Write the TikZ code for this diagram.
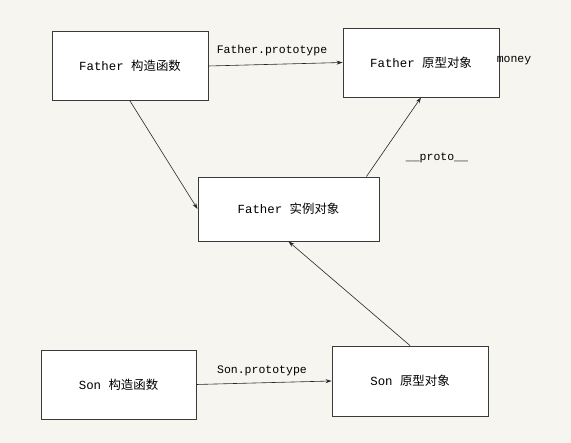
\documentclass[tikz,border=0pt]{standalone}
\usepackage{fontspec}
\setmainfont{Liberation Mono}
\newfontfamily\cjk{Noto Sans CJK SC}
\usetikzlibrary{arrows.meta}
\definecolor{paper}{HTML}{F7F5F0}
\definecolor{edge}{HTML}{3A3A3A}

\begin{document}
\begin{tikzpicture}[x=1pt,y=-1pt,font=\fontsize{11.5}{13}\selectfont]
    \tikzstyle{box}=[draw=edge,line width=0.9pt,fill=white,inner sep=0pt,minimum height=69pt,font=\fontsize{12.4}{14}\selectfont]
    \tikzstyle{link}=[draw=black!85,line width=0.6pt,-{Stealth[length=6pt,width=4pt]}]
    \tikzstyle{tag}=[inner sep=1pt]
    \fill[paper] (0,0) rectangle (571,443);
    \useasboundingbox (0,0) rectangle (571,443);
    \node[box,minimum width=156pt] (fctor) at (130,66) {Father {\cjk 构造函数}};
    \node[box,minimum width=156pt] (fproto) at (421,62.5) {Father {\cjk 原型对象}};
    \node[box,minimum width=181pt,minimum height=64pt] (inst) at (288.5,209) {Father {\cjk 实例对象}};
    \node[box,minimum width=155pt] (sctor) at (118.5,384.5) {Son {\cjk 构造函数}};
    \node[box,minimum width=156pt,minimum height=70pt] (sproto) at (410,381) {Son {\cjk 原型对象}};
    \draw[link] (fctor.east) -- (fproto.west);
    \draw[link] (fctor.south) -- (inst.west);
    \draw[link] ([xshift=-13pt]inst.north east) -- (fproto.south);
    \draw[link] (sproto.north) -- (inst.south);
    \draw[link] (sctor.east) -- (sproto.west);
    \node[tag] (fptxt) at (272,51) {Father.prototype};
    \node[tag] (sptxt) at (262,371) {Son.prototype};
    \node[tag] (protxt) at (437,158) {\_\_proto\_\_};
    \node[tag] (money) at (514,61) {money};
  \end{tikzpicture}
\end{document}
